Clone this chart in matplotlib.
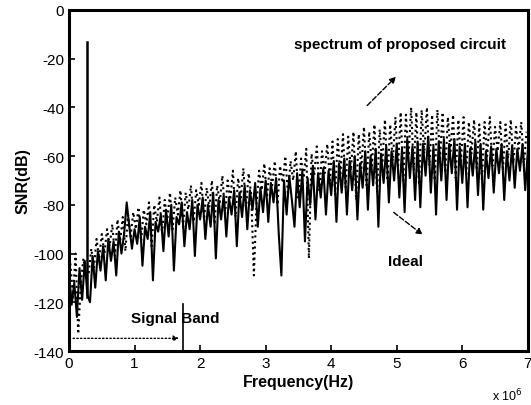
import matplotlib
matplotlib.use("Agg")
import matplotlib.pyplot as plt
import numpy as np

plt.rcParams['font.family'] = ['Liberation Sans', 'DejaVu Sans']
plt.rcParams['axes.unicode_minus'] = False

# frequency grids in units of 1e6 Hz (step 0.04, the proposed-circuit trace sampled in between)
freq = np.round(np.arange(0, 176) * 0.04, 2)
freq_p = np.round(np.arange(0, 175) * 0.04 + 0.02, 2)

ideal_db = [
    -108, -121, -112, -126, -106, -119, -103, -117, -120, -101, -114, -99, -107, -97, -111, -94, -103, -95, -109, -91, -100, -92, -79, -89, -98,
    -90, -96, -85, -105, -89, -94, -83, -111, -87, -91, -84, -99, -82, -93, -80, -107, -85, -88, -79, -97, -83, -90, -78, -101, -80,
    -86, -77, -94, -80, -89, -75, -102, -78, -86, -76, -93, -77, -84, -74, -97, -75, -85, -72, -90, -74, -82, -71, -89, -73, -83,
    -70, -87, -71, -79, -69, -92, -109, -70, -84, -68, -78, -89, -67, -81, -66, -95, -69, -80, -64, -86, -67, -77, -65, -84, -66,
    -76, -62, -87, -63, -75, -61, -84, -62, -74, -60, -86, -63, -73, -58, -82, -60, -72, -57, -89, -59, -71, -56, -79, -58, -70,
    -55, -77, -57, -83, -53, -69, -56, -78, -54, -81, -55, -68, -52, -75, -56, -84, -54, -70, -53, -78, -55, -67, -53, -82, -56,
    -71, -55, -81, -57, -68, -54, -76, -55, -82, -58, -69, -56, -75, -57, -67, -55, -78, -58, -70, -56, -73, -57, -66, -55, -74, -58,
]

proposed_db = [
    -104, -118, -100, -133, -112, -102, -110, -108, -98, -106, -94, -102, -92, -100, -90, -97, -88, -101, -86, -95, -85, -99, -84, -93, -83,
    -90, -81, -95, -82, -88, -79, -97, -80, -87, -77, -92, -78, -86, -75, -90, -77, -84, -74, -89, -75, -82, -72, -87, -74, -80,
    -71, -86, -73, -81, -70, -88, -72, -79, -68, -84, -70, -78, -66, -85, -69, -77, -65, -82, -67, -76, -109, -80, -66, -74, -63,
    -77, -65, -72, -62, -80, -64, -71, -60, -76, -62, -70, -58, -78, -61, -69, -57, -102, -59, -68, -56, -74, -58, -67, -55, -70,
    -54, -76, -53, -68, -51, -73, -52, -66, -50, -78, -51, -65, -48, -72, -50, -64, -47, -75, -49, -63, -45, -70, -47, -62, -44,
    -65, -42, -70, -43, -60, -40, -66, -42, -72, -41, -59, -40, -64, -43, -70, -41, -61, -42, -67, -44, -58, -43, -69, -45, -62,
    -44, -68, -46, -59, -45, -65, -47, -70, -46, -60, -44, -64, -48, -58, -46, -66, -47, -61, -45, -63, -48, -57, -46, -64, -50,
]

tone_freq = [0.28, 0.28]
tone_db = [-118, -13]

band_edge = 1.74
band_y = -134.8

xticks = [0, 1, 2, 3, 4, 5, 6, 7]
yticks = [0, -20, -40, -60, -80, -100, -120, -140]

fig = plt.figure(figsize=(5.31, 4.06), dpi=100)
ax = fig.add_axes([0.130, 0.133, 0.864, 0.840])

ax.plot(freq_p, proposed_db, color='black', linestyle=':', linewidth=1.5)
ax.plot(freq, ideal_db, color='black', linestyle='-', linewidth=1.5)
ax.plot(tone_freq, tone_db, color='black', linewidth=1.8)

ax.set_xlim(0, 7)
ax.set_ylim(-140, 0)
ax.set_xticks(xticks)
ax.set_yticks(yticks)
ax.set_xticklabels([str(t) for t in xticks])
ax.set_yticklabels([str(t) for t in yticks])
ax.tick_params(direction='in', length=4, width=1.2, labelsize=11)
for s in ax.spines.values():
    s.set_linewidth(2.2)

ax.set_xlabel('Frequency(Hz)', fontsize=11.5, fontweight='bold', labelpad=3)
ax.set_ylabel('SNR(dB)', fontsize=11.5, fontweight='bold', labelpad=2)
fig.text(0.985, 0.005, r'x 10$^6$', ha='right', va='bottom', fontsize=9)

# annotations
ax.text(5.05, -14, 'spectrum of proposed circuit', ha='center', va='center',
        fontsize=11, fontweight='bold')
ax.annotate('', xy=(5.02, -26.6), xytext=(4.52, -40),
            arrowprops=dict(arrowstyle='-|>', linestyle='--', color='black', lw=1.0,
                            mutation_scale=9))
ax.text(5.13, -103, 'Ideal', ha='center', va='center', fontsize=11, fontweight='bold')
ax.annotate('', xy=(5.43, -93), xytext=(4.92, -82.4),
            arrowprops=dict(arrowstyle='-|>', linestyle='--', color='black', lw=1.0,
                            mutation_scale=9))
ax.text(1.62, -126.6, 'Signal Band', ha='center', va='center', fontsize=11, fontweight='bold')
ax.plot([band_edge, band_edge], [-140, -120.5], color='black', linewidth=1.2)
ax.annotate('', xy=(band_edge - 0.02, band_y), xytext=(0.02, band_y),
            arrowprops=dict(arrowstyle='-|>', linestyle=':', color='black', lw=1.0,
                            mutation_scale=8))

fig.savefig('out.png', dpi=100)
